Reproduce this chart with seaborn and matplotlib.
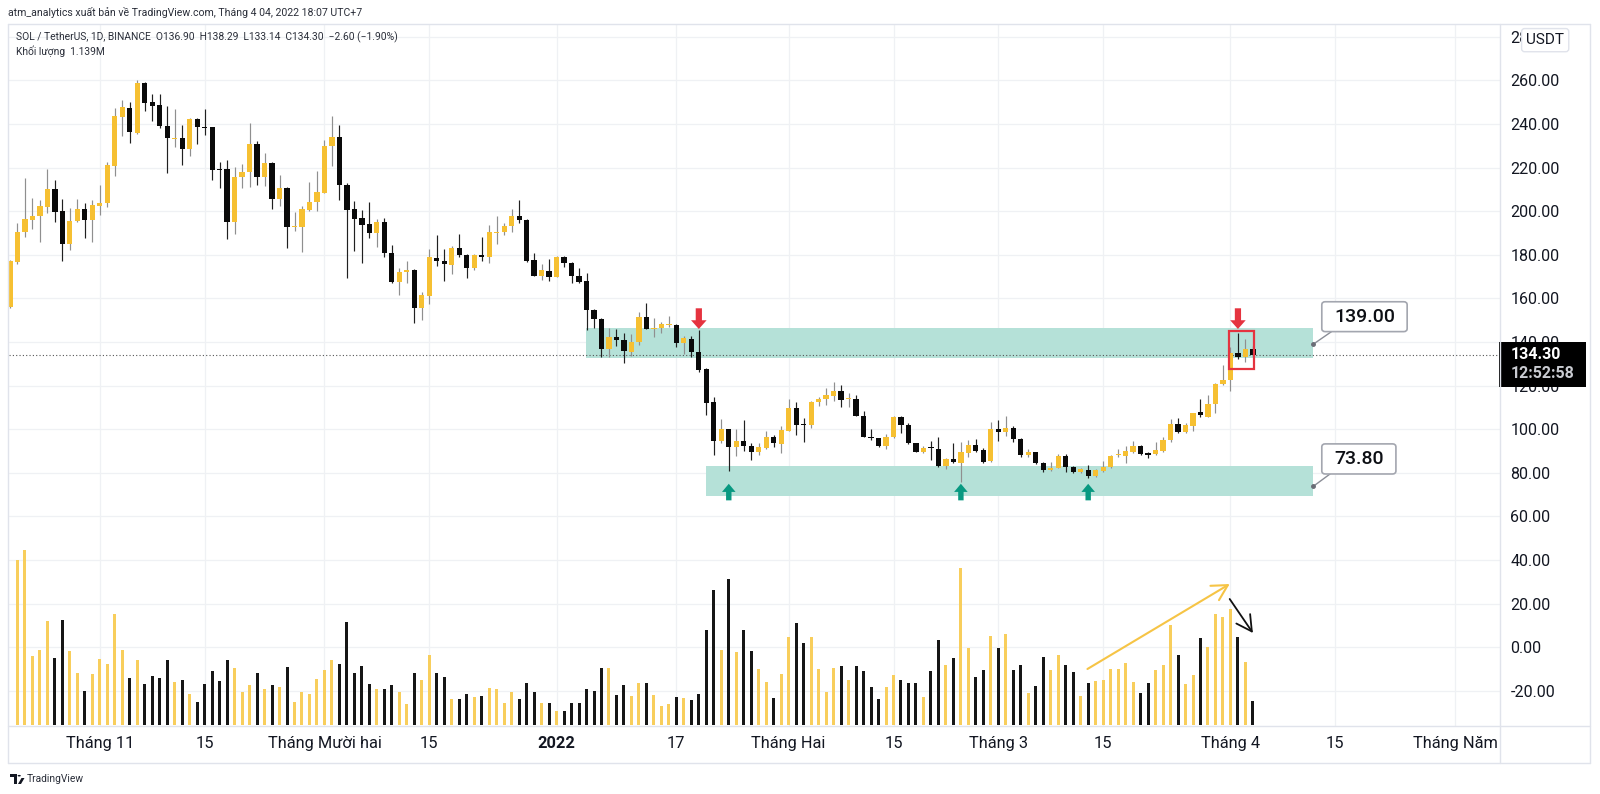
import numpy as np
import pandas as pd
import matplotlib
matplotlib.use("Agg")
import matplotlib.pyplot as plt
import matplotlib.transforms as mtransforms
from matplotlib.patches import Rectangle, FancyBboxPatch, Polygon, Circle
from matplotlib.lines import Line2D
import seaborn as sns

# ---------------- data ----------------
start_date = "2021-10-20"
opens = [156, 176.6, 190.6, 196, 198, 202.1, 210.2, 200.1, 184.8, 195.5,
         200.9, 196, 202.6, 204, 220.9, 243.4, 247.2, 236, 259, 250.1,
         248.9, 239.1, 233, 233.8, 228.6, 242.2, 238.8, 238.5, 219.4, 219.2,
         195.2, 215.6, 218.2, 230.9, 215.9, 222, 205.8, 210.5, 192.6, 193,
         200.6, 204.4, 208.5, 230, 234.2, 212, 200.9, 196.8, 194, 190.2,
         194.9, 181, 167.4, 172.3, 173.1, 155.5, 161.3, 178.6, 177.2, 175.5,
         183.2, 179.9, 173.8, 179.9, 178.9, 190.2, 190.5, 193.3, 197.8, 196,
         177.7, 170.5, 172.8, 170, 179.2, 176.4, 170.3, 168.2, 154.7, 150.4,
         136.7, 142.3, 141, 135.6, 140.2, 151.7, 146.2, 146.3, 148, 147.8,
         139.7, 141.4, 135.3, 127.7, 112.4, 94.6, 100, 91.7, 94.8, 92.3,
         89.4, 91.3, 96.3, 93.1, 99.4, 109.9, 102, 101.8, 112.7, 113.9,
         115.4, 117.6, 113.8, 113.9, 106.3, 96.6, 95.9, 92.5, 96.3, 105.8,
         102, 93.6, 89.7, 91.5, 90.8, 83.2, 86.5, 84.7, 89.3, 92.8,
         90.4, 85.5, 100, 98.6, 100.7, 95.5, 88, 89.6, 84.5, 81.3,
         82.4, 87.9, 82.6, 80.6, 81.3, 78.7, 81, 82.6, 88.2, 87.9,
         89.4, 92.5, 89, 88.7, 90.2, 95.1, 102.4, 98.6, 101.7, 107.8,
         105.8, 111.4, 120.6, 122.6, 134.8, 133, 136.9]
highs = [177.5, 194.5, 215.4, 206, 205, 219.2, 214.3, 205.5, 201.3, 205.6,
         203.6, 205.2, 212, 222.8, 247.2, 251, 250.3, 260.2, 259.5, 253.6,
         253.6, 248.3, 246.8, 239.6, 242.6, 242.6, 246.8, 238.8, 222.8, 223.5,
         220.2, 221.7, 240.3, 232.4, 226.6, 222.8, 216.6, 211, 199.5, 202.4,
         213.3, 218.5, 232.7, 243.7, 239.6, 212.8, 204.9, 200.6, 204.4, 196.3,
         196.8, 184.5, 173.8, 177.2, 173.4, 163.1, 182.7, 189.1, 182.7, 184.2,
         189.6, 180.4, 180.4, 188, 193.5, 197.8, 194.8, 201, 205.2, 196.3,
         181, 175.8, 178, 179.5, 179.6, 176.9, 173.8, 171.5, 155, 150.9,
         146.3, 145.9, 144, 143.7, 153.7, 157.8, 150.9, 149.4, 152, 148.2,
         142.8, 143, 145.5, 128, 115, 104.6, 100.3, 100, 104.3, 93.6,
         93.6, 99.4, 97.4, 101.5, 113.8, 112.7, 105, 113, 115, 118.8,
         121.9, 120.3, 116.8, 115.7, 108.4, 100, 96.2, 97.8, 106.1, 106,
         103, 93.9, 92.4, 94.8, 96.3, 86.7, 93.6, 94, 95.1, 95.6,
         91.3, 103.5, 104.3, 106.1, 101.5, 95.9, 91.1, 89.7, 84.8, 85.1,
         88.7, 88.7, 83.2, 82.1, 83.6, 81.6, 85.4, 88.2, 90.8, 92.5,
         94.8, 92.8, 89.4, 94, 96.3, 104.6, 105, 102.7, 107.6, 113.7,
         115.7, 121.1, 129.5, 137.9, 144, 141.3, 138.29]
lows = [155.5, 176, 188.4, 191.7, 185.7, 199, 195.2, 177.3, 182.2, 195.2,
        187.9, 185.7, 198.3, 201.8, 216.2, 234.5, 231.2, 235.4, 246.1, 241.4,
        238, 217.7, 229.6, 221.2, 225.3, 230.9, 235, 214.3, 210.5, 187.1,
        189.6, 210.5, 211, 212, 211.6, 200.9, 202.4, 183, 191.1, 181.5,
        200.3, 200.3, 208.3, 220.8, 205.2, 169.3, 181.9, 176.4, 187.6, 183.8,
        179.2, 167.1, 161.6, 167.3, 148.6, 150.1, 157.5, 174.9, 168.2, 171.2,
        178.9, 169.2, 173, 177.2, 176.1, 184.8, 189.1, 190.6, 194.8, 176.9,
        170.3, 168.5, 168.2, 169.7, 174.6, 167, 167.3, 145.5, 146.3, 133.3,
        133.3, 138.2, 130.3, 133.8, 138.7, 145.8, 142.2, 144, 146.8, 137.6,
        134.5, 133.3, 126.4, 106.6, 88.2, 93.9, 81.0, 87.7, 90.2, 86,
        88, 90.8, 91.7, 89.3, 99.2, 97.4, 94.3, 100.8, 110.7, 111.2,
        113.1, 110.4, 110.1, 105.9, 96.3, 95.1, 92.0, 90.8, 96.0, 98.5,
        93.4, 89.5, 89.3, 85.9, 82.9, 81.6, 84.5, 76, 87.1, 89.7,
        84.4, 85.1, 94.6, 97, 94.3, 87.4, 87.4, 84.1, 80.3, 81,
        82.1, 80.6, 80.1, 80.1, 77.5, 78.3, 80.6, 82.1, 87.1, 84.4,
        89, 88.2, 86.7, 88.2, 89.7, 94.3, 98.1, 98.1, 99.4, 105.5,
        105.5, 107.3, 120.3, 117.7, 132.1, 131.0, 133.14]
closes = [177, 190.6, 196.5, 198, 202.6, 210.2, 199.8, 184.8, 195.5, 200.9,
          196, 202.9, 204, 221.2, 243.7, 247.7, 236.2, 259, 249.8, 248.4,
          239.1, 233.5, 233.8, 228.6, 242.2, 238.8, 238.3, 218.9, 219.1, 195.1,
          215.6, 218.2, 230.9, 215.9, 222, 205.8, 210.5, 192.6, 193.3, 200.9,
          204.4, 209, 230.1, 234.2, 211.9, 200.6, 196.6, 193.7, 190.2, 194.9,
          181, 167.4, 172.3, 173.1, 155.5, 161.6, 178.9, 177.1, 175.7, 183.2,
          179.9, 173.8, 179.9, 178.9, 190.5, 190.6, 193.3, 197.8, 196, 177.2,
          170.5, 172.9, 170, 179.2, 176.4, 170.3, 167.7, 154.7, 150.4, 136.7,
          142.5, 141.1, 135.9, 140.2, 151.7, 146, 146.5, 148.2, 148.1, 139.7,
          141.7, 135.5, 127.2, 112.2, 94.6, 100, 91.9, 94.8, 92.3, 89.4,
          91.7, 96.3, 93.6, 99.7, 109.9, 101.8, 101.8, 112.7, 113.9, 115.7,
          117.6, 113.4, 113.9, 106.3, 96.6, 96, 92.5, 96.3, 105.8, 102,
          93.6, 89.7, 91.6, 91.2, 83.2, 86.5, 84.8, 89.6, 92.8, 90.2,
          85.1, 100, 98.6, 100.8, 95.5, 88.1, 89.6, 84.5, 81.3, 82.4,
          87.9, 82.6, 80.6, 81.6, 78.7, 81.2, 82.9, 87.9, 88.7, 90,
          92.5, 88.7, 88.2, 90.5, 95.1, 102.4, 98.6, 102, 107.3, 106.6,
          111.6, 120.8, 122.6, 134.8, 133, 136.9, 134.3]
# relative daily volume (first bar not visible on the chart)
volume = [np.nan, 165, 175, 69, 75, 104, 67, 105.3, 74, 52.3,
          34, 50.7, 66.3, 61, 110.7, 75, 47, 64.7, 41, 49,
          47, 65.3, 42.7, 45, 31.3, 23.3, 41, 54, 44.3, 65.3,
          57.3, 33, 40.3, 52.3, 35.7, 40, 37.7, 58.3, 22.7, 33,
          31.3, 46.3, 54.7, 64.7, 61.3, 103, 52.3, 59.3, 41, 35.7,
          35.7, 40, 33, 21.3, 52.3, 45, 70.3, 51.7, 48.3, 26,
          26, 31, 27.7, 29.3, 36.7, 35.7, 22.3, 32.7, 26, 42.3,
          32.7, 21.7, 22.3, 13.7, 13.7, 22.3, 22.3, 35.7, 34, 57,
          56.7, 30.3, 39.7, 29, 41.7, 41.7, 30.3, 19, 21, 27.7,
          27, 25, 31, 95, 135, 75, 146, 73, 95, 74,
          55.7, 43.3, 27, 51, 88, 101.7, 81.7, 88, 55.7, 33,
          57, 59, 45, 59, 54, 38.3, 26, 38.3, 49.7, 45,
          42.3, 42.3, 28, 54, 85, 60, 66.7, 156.7, 77.3, 48.3,
          55, 89, 77.3, 91, 55, 60, 32.3, 39, 68, 55,
          70, 60, 53, 29.3, 42.3, 44.3, 45, 55.7, 55.7, 61.7,
          43.3, 32.3, 41.7, 55, 60, 100, 70.3, 41, 49.7, 87,
          78.3, 110.7, 108.3, 115.7, 88, 62.7, 24]
last_volume_label = "1.139M"

tick_dates = ["2021-11-01", "2021-11-15", "2021-12-01", "2021-12-15", "2022-01-01",
              "2022-01-17", "2022-02-01", "2022-02-15", "2022-03-01", "2022-03-15",
              "2022-04-01", "2022-04-15", "2022-05-01"]
tick_labels = ["Tháng 11", "15", "Tháng Mười hai", "15", "2022", "17", "Tháng Hai",
               "15", "Tháng 3", "15", "Tháng 4", "15", "Tháng Năm"]
price_ticks = list(range(-20, 281, 20))

zone_low = [132.6, 69.4]
zone_high = [146.3, 83.2]
zone_start = [76.9, 92.95]
zone_end = 174.05
level_values = [139.0, 73.8]
red_arrow_idx = [92, 164]
green_arrow_idx = [96, 127, 144]

# ---------------- style ----------------
sns.set_theme(style="white")
plt.rcParams['font.family'] = ['Roboto', 'DejaVu Sans']

W, H = 1600, 794
fig = plt.figure(figsize=(W / 100, H / 100), dpi=100)
fig.patch.set_facecolor("white")

def fx(px):
    return px / W

def fy(py):
    return 1 - py / H

AX_L, AX_R, AX_T, AX_B = 9, 1500, 24, 726
ax = fig.add_axes([fx(AX_L), fy(AX_B), fx(AX_R - AX_L), (AX_B - AX_T) / H])
vax = ax.twinx()

n = len(closes)
dates = pd.date_range(start_date, periods=n)
x = np.asarray((dates - dates[0]).days, dtype=float)
o = np.array(opens); h = np.array(highs); l = np.array(lows); c = np.array(closes)
up = c >= o

YEL = "#F6C032"
BLK = "#0a0a0a"
VYEL = "#F8CE5C"
VBLK = "#161616"
TEAL = "#B5E1D8"
RED = "#E5333F"
GREEN = "#089981"
TXT = "#131722"

# zones
for zs, zl, zh in zip(zone_start, zone_low, zone_high):
    ax.fill_between([zs, zone_end], zl, zh, color=TEAL, lw=0, zorder=1)

# last price dotted line
ax.axhline(c[-1], color="#555555", lw=0.8, ls=(0, (1, 2)), zorder=1.5)

# wicks and bodies
wick_cols = np.where(up, "#8f8f8f", "#202020")
ax.vlines(x, l, h, colors=wick_cols, lw=0.85, zorder=2)
body_bottom = np.minimum(o, c)
body_h = np.maximum(np.abs(c - o), 0.45)
ax.bar(x, body_h, bottom=body_bottom, width=0.7, color=np.where(up, YEL, BLK),
       lw=0, zorder=3)

# volume
vol_cols = np.where(up, VYEL, VBLK)
vax.bar(x, volume, width=0.4, color=vol_cols, lw=0, zorder=2)

ax.set_xlim(-0.13, 199.0)
ax.set_ylim(-36.1, 285.9)
vax.set_ylim(-1, 701)
vax.set_yticks([])
for s in list(ax.spines.values()) + list(vax.spines.values()):
    s.set_visible(False)

tick_x = [(pd.Timestamp(d) - dates[0]).days for d in tick_dates]
ax.set_xticks(tick_x)
ax.set_xticklabels(tick_labels)
ax.set_yticks(price_ticks)
ax.set_yticklabels([f"{v:.2f}" for v in price_ticks])
ax.yaxis.tick_right()
ax.tick_params(axis="y", length=0, pad=7.5, labelsize=11.5, labelcolor=TXT,
               left=False, right=False, labelleft=False, labelright=True)
ax.tick_params(axis="x", length=0, pad=7, labelsize=11.8, labelcolor=TXT)
for lab in ax.get_xticklabels():
    if lab.get_text() == "2022":
        lab.set_fontweight("bold")
ax.grid(True, color="#eff1f4", lw=0.9)
ax.set_axisbelow(True)

# arrows above / below candles
for i in red_arrow_idx:
    ax.annotate("", xy=(x[i], 146.0), xytext=(x[i], 155.5),
                arrowprops=dict(arrowstyle="simple,head_length=0.45,head_width=0.8,tail_width=0.32",
                                mutation_scale=14, color=RED, shrinkA=0, shrinkB=0, lw=0),
                zorder=7)
for i in green_arrow_idx:
    ax.annotate("", xy=(x[i], 75.0), xytext=(x[i], 67.4),
                arrowprops=dict(arrowstyle="simple,head_length=0.45,head_width=0.75,tail_width=0.3",
                                mutation_scale=13, color=GREEN, shrinkA=0, shrinkB=0, lw=0),
                zorder=7)

# red box around the last candles
ax.add_patch(Rectangle((162.8, 127.5), 3.3, 17.6, fill=False, ec=RED, lw=1.6, zorder=6))

# level callouts
callouts = [
    (level_values[0], (175.2, 144.8), 11.4, 13.7, (176.5, 144.8)),
    (level_values[1], (175.2, 79.5), 9.9, 13.8, (176.3, 79.5)),
]
for val, (bx, by), bw, bh, (tx, ty) in callouts:
    ax.plot([tx, zone_end], [ty, val], color="#8a8d96", lw=1.0, zorder=8, solid_capstyle="round")
    ax.plot([zone_end], [val], marker="o", ms=2.5, color="#6a6d76", zorder=9)
    ax.add_patch(FancyBboxPatch((bx, by), bw, bh,
                                boxstyle="round,pad=0,rounding_size=0.45",
                                mutation_aspect=3.2, fc="white", ec="#a3a6af",
                                lw=1.2, zorder=8.5, clip_on=False))
    ax.text(bx + bw / 2, by + bh / 2, f"{val:.2f}", ha="center", va="center",
            fontsize=14, fontweight="medium", color="#0d0f14", zorder=9)

# volume trend arrows
vax.annotate("", xy=(162.9, 141), xytext=(143.9, 56),
             arrowprops=dict(arrowstyle="->,head_length=0.55,head_width=0.3",
                             mutation_scale=20, color="#F6C445", lw=1.5,
                             shrinkA=0, shrinkB=0))
vax.annotate("", xy=(166.0, 92), xytext=(162.9, 126),
             arrowprops=dict(arrowstyle="->,head_length=0.55,head_width=0.3",
                             mutation_scale=20, color="#111111", lw=1.3,
                             shrinkA=0, shrinkB=0))

# price tag on the axis
blend = mtransforms.blended_transform_factory(ax.transAxes, ax.transData)
ax.add_patch(Rectangle((0.9993, c[-1] - 14.8), 0.0584, 20.5, transform=blend,
                       fc="black", ec="none", clip_on=False, zorder=10))
ax.text(1.0075, c[-1], f"{c[-1]:.2f}", transform=blend, color="white",
        fontsize=11.5, fontweight="bold", va="center", ha="left", zorder=11, clip_on=False)
ax.text(1.0075, c[-1] - 8.8, "12:52:58", transform=blend, color="#c9cbd1",
        fontsize=11.5, fontweight="bold", va="center", ha="left", zorder=11, clip_on=False)

# USDT badge
ax.text(1.0303, 0.977, "USDT", transform=ax.transAxes, fontsize=11, color=TXT,
        ha="center", va="center", zorder=12, clip_on=False,
        bbox=dict(boxstyle="round,pad=0.3,rounding_size=0.2", fc="white", ec="#e0e3eb", lw=1))

# frame lines
frame_col = "#e0e3eb"
for (x0, y0, x1, y1) in [(8, 24, 1590, 24), (8, 763, 1590, 763), (8, 24, 8, 763),
                         (1590, 24, 1590, 763), (1500, 24, 1500, 763), (8, 726, 1590, 726)]:
    fig.add_artist(Line2D([fx(x0), fx(x1)], [fy(y0), fy(y1)], color=frame_col, lw=1,
                          transform=fig.transFigure, zorder=0.5))

# header texts
chg = c[-1] - o[-1]
pct = chg / o[-1] * 100
fmt = lambda v: f"{v:.2f}".replace("-", "−")
fig.text(fx(8), fy(12.5), "atm_analytics xuất bản về TradingView.com, Tháng 4 04, 2022 18:07 UTC+7",
         fontsize=7.6, color="#2a2e39", va="center", ha="left")
fig.text(fx(16), fy(37), f"SOL / TetherUS, 1D, BINANCE  O{o[-1]:.2f}  H{h[-1]:.2f}  L{l[-1]:.2f}  "
         f"C{c[-1]:.2f}  {fmt(chg)} ({fmt(pct)}%)",
         fontsize=7.4, color="#2a2e39", va="center", ha="left")
fig.text(fx(16), fy(51), f"Khối lượng  {last_volume_label}", fontsize=7.4, color="#2a2e39",
         va="center", ha="left")

# TradingView footer logo + name
logo = [Polygon([(fx(10), fy(774)), (fx(17), fy(774)), (fx(17), fy(784)), (fx(14), fy(784)),
                 (fx(14), fy(777)), (fx(10), fy(777))], closed=True, fc="#131722", ec="none",
                transform=fig.transFigure),
        Circle((fx(19.2), fy(775.7)), 1.6 / W, fc="#131722", ec="none", transform=fig.transFigure),
        Polygon([(fx(18), fy(784)), (fx(21.5), fy(778)), (fx(24.5), fy(778)), (fx(21), fy(784))],
                closed=True, fc="#131722", ec="none", transform=fig.transFigure)]
for p in logo:
    fig.add_artist(p)
fig.text(fx(27), fy(779), "TradingView", fontsize=7.4, color="#2a2e39", va="center", ha="left")

fig.savefig("out.png", dpi=100, facecolor="white")
